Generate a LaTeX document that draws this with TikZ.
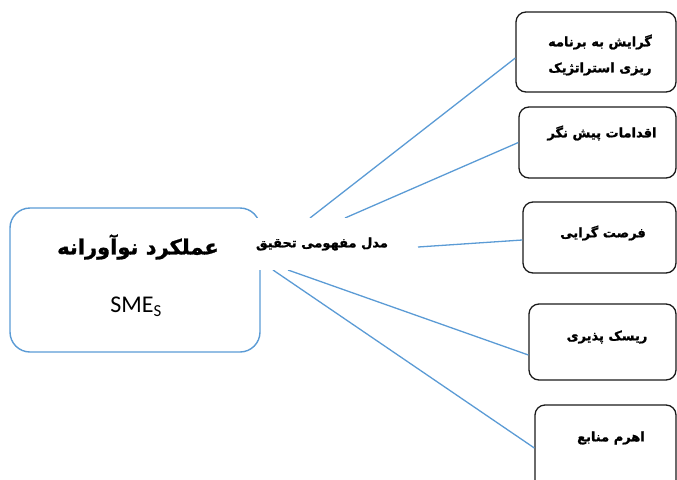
\documentclass[tikz,border=0pt]{standalone}
\usepackage{fontspec}
\setmainfont{Carlito}
\newfontfamily\arabicfont[Script=Arabic, BoldFont={DejaVu Sans Bold}, BoldFeatures={FakeBold=1.2}]{DejaVu Sans}
\TeXXeTstate=1
\usetikzlibrary{calc}
\definecolor{lineblue}{HTML}{5B9BD5}
\definecolor{boxline}{HTML}{1A1A1A}
\newcommand{\fa}[1]{{\arabicfont\bfseries\beginR #1\endR}}
\begin{document}
\begin{tikzpicture}[x=1pt,y=-1pt,
  mainbox/.style={draw=lineblue, line width=1.4pt, rounded corners=20pt, inner sep=0pt},
  rbox/.style={draw=boxline, line width=1.3pt, rounded corners=10pt, inner sep=0pt},
  rtext/.style={font=\fontsize{13}{15}\selectfont, inner sep=0pt, align=center},
  conn/.style={draw=lineblue, line width=1.3pt}]
\useasboundingbox (0,0) rectangle (677,479);
\clip (0,0) rectangle (677,479);
% main box
\node[mainbox, minimum width=250pt, minimum height=144pt] (main) at (135,280) {};
\node[inner sep=0pt, font=\fontsize{21}{25}\selectfont] (title) at (138,247) {\fa{عملکرد نوآورانه}};
\node[inner sep=0pt, font=\fontsize{24}{28}\selectfont] (smes) at (136,307) {SME\textsubscript{S}};
% right boxes
\node[rbox, minimum width=160pt, minimum height=80pt] (b1) at (596,52) {};
\node[rbox, minimum width=157pt, minimum height=71pt] (b2) at (597.5,142.5) {};
\node[rbox, minimum width=153pt, minimum height=71pt] (b3) at (599.5,237.5) {};
\node[rbox, minimum width=147pt, minimum height=76pt] (b4) at (602.5,342) {};
\node[rbox, minimum width=141pt, minimum height=110pt] (b5) at (605.5,460) {};
\node[rtext] (t1) at (600,55) {\fa{گرایش به برنامه}\\[11pt]\fa{ریزی استراتژیک}};
\node[rtext] (t2) at (602,133) {\fa{اقدامات پیش نگر}};
\node[rtext] (t3) at (603,233) {\fa{فرصت گرایی}};
\node[rtext] (t4) at (607,337) {\fa{ریسک پذیری}};
\node[rtext] (t5) at (611,438) {\fa{اهرم منابع}};
% connectors
\coordinate (s1) at (310,218);
\coordinate (s2) at (345,218);
\coordinate (s3) at (418,247);
\coordinate (s4) at (288,270);
\coordinate (s5) at (273,270);
\draw[conn] (s1) -- ($(b1.west)+(0,6)$);
\draw[conn] (s2) -- (b2.west);
\draw[conn] (s3) -- ($(b3.west)+(0,2.5)$);
\draw[conn] (s4) -- ($(b4.west)+(0,13)$);
\draw[conn] (s5) -- ($(b5.west)+(0,-12)$);
% center label
\node[fill=white, inner sep=0pt, minimum width=134pt, minimum height=52pt,
      font=\fontsize{13}{15}\selectfont] (ct) at (322,244) {\fa{مدل مفهومی تحقیق}};
\end{tikzpicture}
\end{document}
